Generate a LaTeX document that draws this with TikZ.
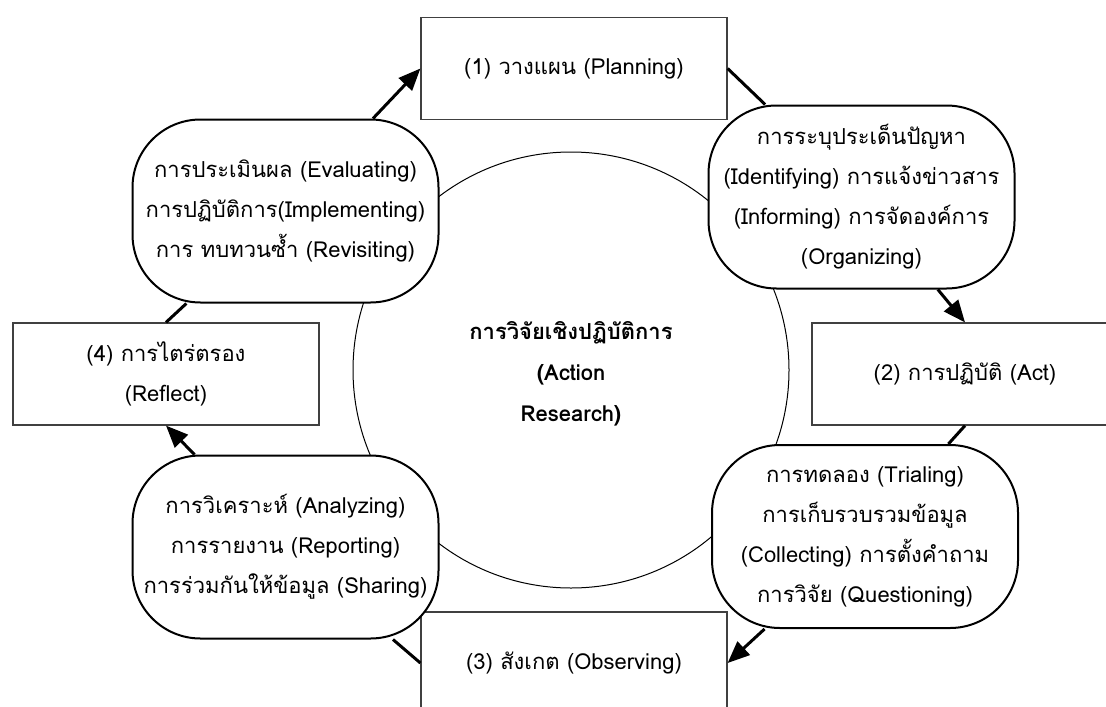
\documentclass[tikz,border=0pt]{standalone}
\usepackage{fontspec}
\setmainfont[Script=Thai]{Loma}
\usetikzlibrary{arrows.meta,shapes,positioning}
\tikzstyle{stagebox}=[draw=black!75,line width=0.6pt,minimum width=153pt,minimum height=51pt,inner sep=0pt,align=center,fill=white]
\tikzstyle{blob}=[draw=black,line width=1pt,rounded corners=34pt,minimum width=153pt,minimum height=91.5pt,inner sep=0pt,align=center,fill=white]
\tikzstyle{link}=[line width=1.5pt]
\tikzstyle{flow}=[line width=1.5pt,-{Triangle[length=11pt,width=9pt]}]

\begin{document}
\begin{tikzpicture}[x=0.5pt,y=-0.5pt,font=\fontsize{11}{20}\selectfont]
  \useasboundingbox (0,0) rectangle (1106,706);
  \node[circle,draw,line width=0.5pt,minimum size=218pt,inner sep=0pt] (core) at (571,370) {};
  \node[align=center,font=\fontsize{11}{20.5}\selectfont\bfseries] (title) at (571,374) {การวิจัยเชิงปฏิบัติการ\\(Action\\Research)};

  \node[stagebox] (plan) at (574,68.5) {(1) วางแผน (Planning)};
  \node[stagebox] (act) at (965,374) {(2) การปฏิบัติ (Act)};
  \node[stagebox] (observe) at (574,663) {(3) สังเกต (Observing)};
  \node[stagebox] (reflect) at (166,374) {(4) การไตร่ตรอง\\(Reflect)};

  \node[blob] (ident) at (861.5,197) {การระบุประเด็นปัญหา\\(Identifying) การแจ้งข่าวสาร\\(Informing) การจัดองค์การ\\(Organizing)};
  \node[blob] (trial) at (865,536.5) {การทดลอง (Trialing)\\การเก็บรวบรวมข้อมูล\\(Collecting) การตั้งคำถาม\\การวิจัย (Questioning)};
  \node[blob] (analyze) at (285.5,547) {การวิเคราะห์ (Analyzing)\\การรายงาน (Reporting)\\การร่วมกันให้ข้อมูล (Sharing)};
  \node[blob] (eval) at (285.5,211) {การประเมินผล (Evaluating)\\การปฏิบัติการ(Implementing)\\การ ทบทวนซ้ำ (Revisiting)};

  \draw[flow] (eval) -- (plan.west);
  \draw[link] (plan.east) -- (ident);
  \draw[flow] (ident) -- (act.north);
  \draw[link] (act.south) -- (trial);
  \draw[flow] (trial) -- (observe.east);
  \draw[link] (observe.west) -- (analyze);
  \draw[flow] (analyze) -- (reflect.south);
  \draw[link] (reflect.north) -- (eval);
\end{tikzpicture}
\end{document}
